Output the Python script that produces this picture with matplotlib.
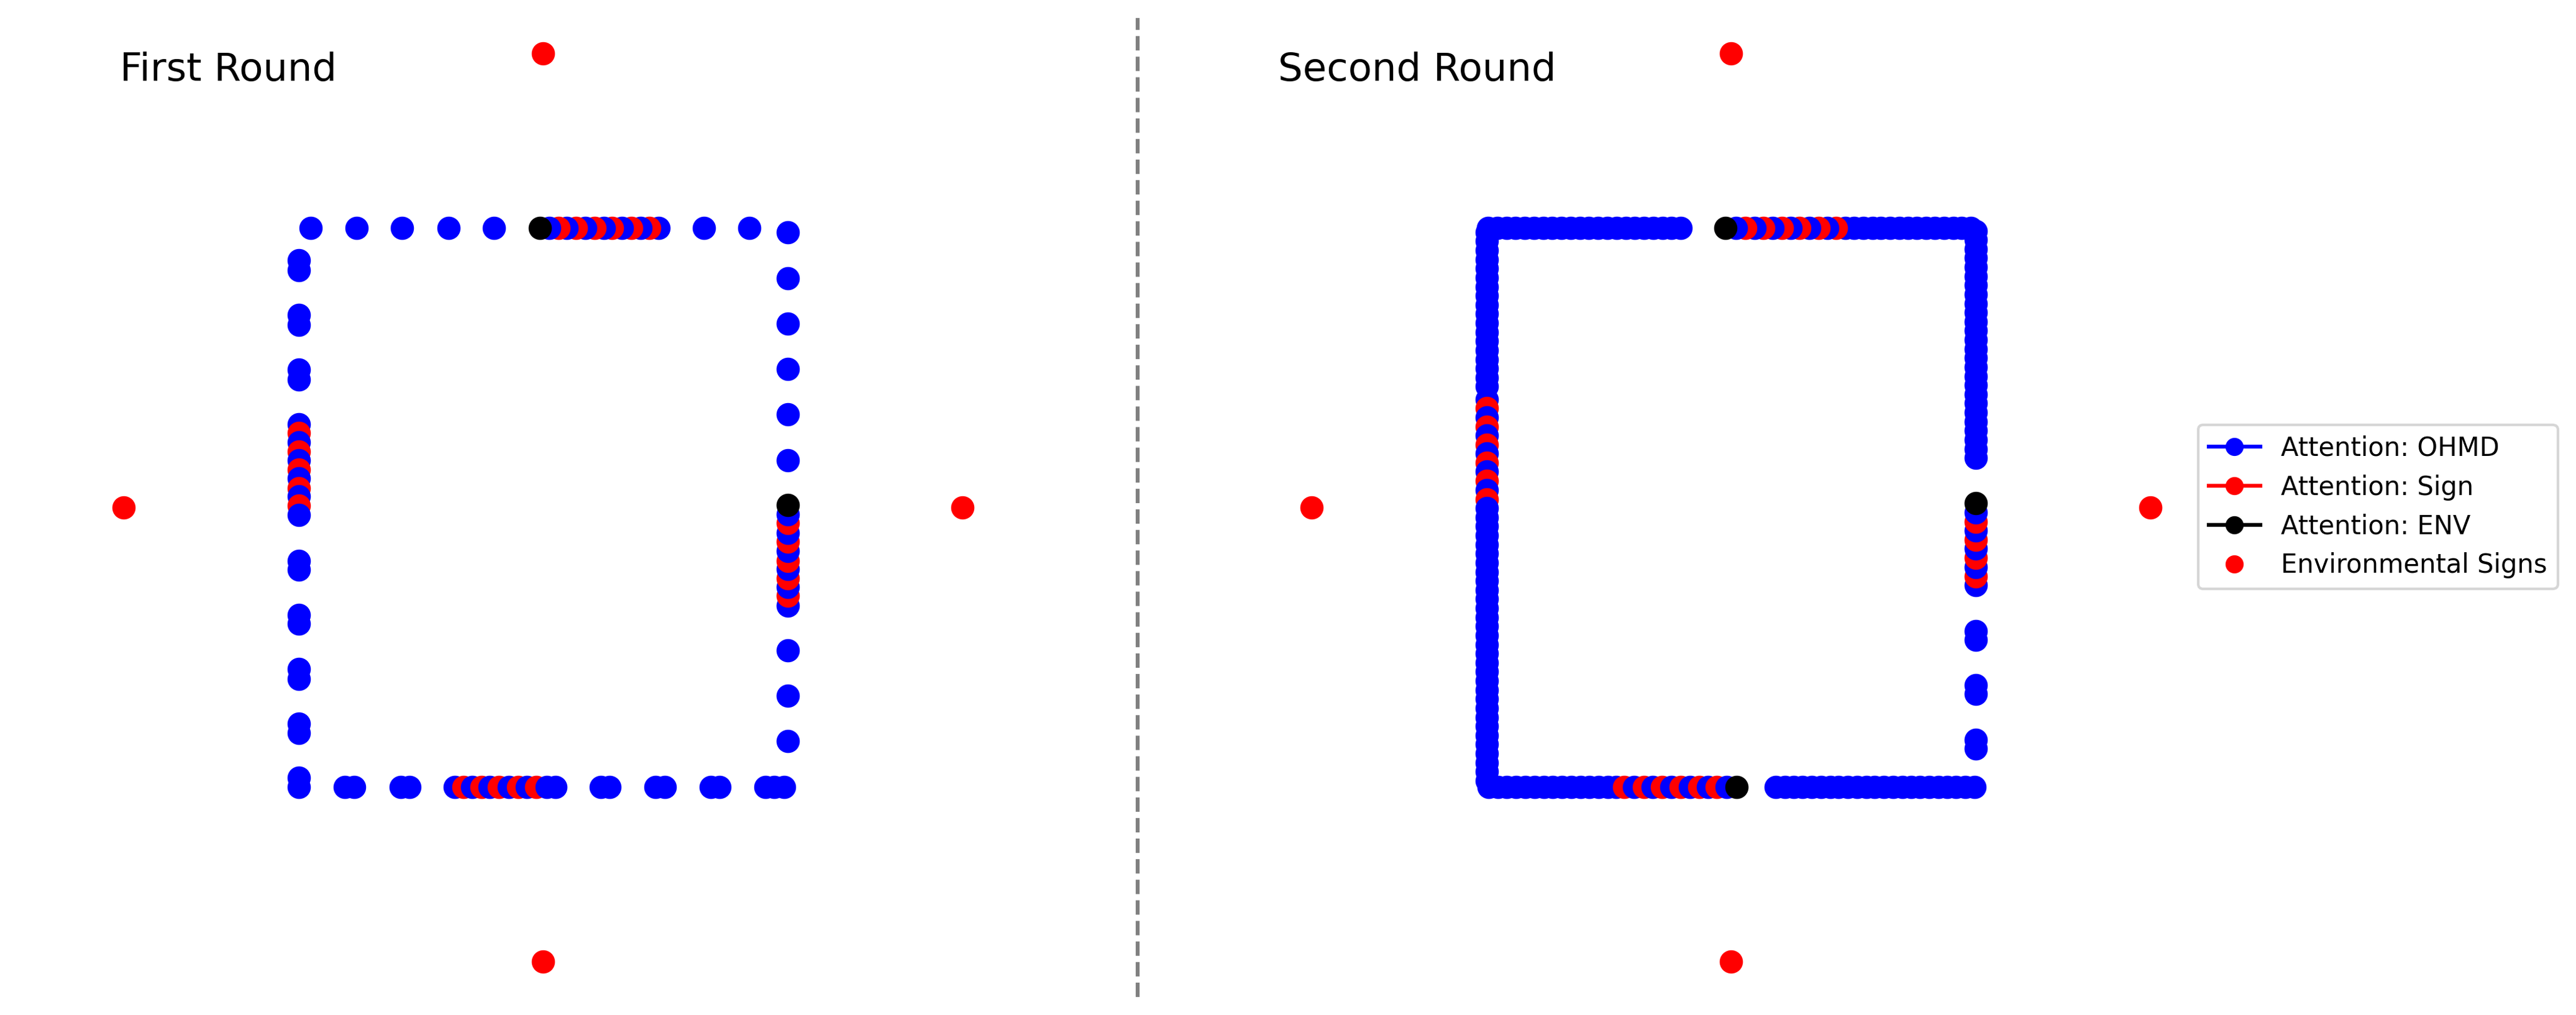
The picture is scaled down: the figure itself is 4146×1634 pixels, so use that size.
import matplotlib
matplotlib.use("Agg")
import matplotlib.pyplot as plt
from matplotlib.lines import Line2D

# side coordinates of the walked square
TOP, BOTTOM, LEFT, RIGHT = 4.0, -4.0, -3.99, 4.0

# environmental signs (same in both rounds)
env_x = [0.0, 0.0, -6.85, 6.85]
env_y = [6.5, -6.5, 0.0, 0.0]

# O = OHMD, S = Sign, E = ENV ; each side listed in walking order
# ---- first round
r1_top_x = [3.37, 2.63, 1.89, 1.74, 1.59, 1.44, 1.29, 1.13, 0.99, 0.84, 0.69,
            0.54, 0.39, 0.25, 0.10, -0.05, -0.80, -1.54, -2.30, -3.05, -3.80]
r1_top_att = "OOOSOSOSOSOSOSOEOOOOO"

r1_left_y = [3.54, 3.40, 2.76, 2.61, 1.97, 1.83, 1.19, 1.07, 0.93, 0.80, 0.68,
             0.54, 0.42, 0.28, 0.16, 0.03, -0.11, -0.76, -0.89, -1.54, -1.66,
             -2.31, -2.45, -3.09, -3.23, -3.87, -4.00]
r1_left_att = "OOOOOOOSOSOSOSOSOOOOOOOOOOO"

r1_bottom_x = [-3.24, -3.09, -2.32, -2.18, -1.44, -1.30, -1.16, -1.01, -0.87,
               -0.72, -0.56, -0.41, -0.26, -0.11, 0.06, 0.20, 0.94, 1.09, 1.84,
               1.99, 2.74, 2.88, 3.63, 3.78, 3.94]
r1_bottom_att = "OOOOOSOSOSOSOSOOOOOOOOOOO"

r1_right_y = [-3.34, -2.69, -2.04, -1.40, -1.26, -1.14, -1.01, -0.88, -0.76,
              -0.62, -0.49, -0.36, -0.22, -0.10, 0.04, 0.68, 1.33, 1.98, 2.63,
              3.28, 3.94]
r1_right_att = "OOOOSOSOSOSOSOEOOOOOO"

# ---- second round
r2_top_x = [3.92, 3.77, 3.63, 3.48, 3.33, 3.19, 3.04, 2.89, 2.75, 2.60, 2.45,
            2.31, 2.16, 2.01, 1.87, 1.72, 1.57, 1.43, 1.28, 1.12, 0.97, 0.83,
            0.68, 0.53, 0.39, 0.23, 0.08, -0.09, -0.82, -0.97, -1.12, -1.27,
            -1.42, -1.57, -1.72, -1.87, -2.02, -2.17, -2.32, -2.47, -2.62,
            -2.77, -2.92, -3.07, -3.22, -3.37, -3.52, -3.67, -3.82, -3.97]
r2_top_att = "OOOOOOOOOOOOOOOSOSOSOSOSOSOEOOOOOOOOOOOOOOOOOOOOOO"

r2_left_y = [3.94, 3.81, 3.68, 3.55, 3.42, 3.29, 3.16, 3.03, 2.90, 2.77, 2.64,
             2.51, 2.38, 2.25, 2.12, 1.99, 1.86, 1.73, 1.55, 1.42, 1.29, 1.16,
             1.03, 0.90, 0.77, 0.64, 0.52, 0.38, 0.25, 0.12, -0.01, -0.14,
             -0.27, -0.40, -0.53, -0.66, -0.79, -0.92, -1.05, -1.18, -1.31,
             -1.44, -1.57, -1.70, -1.83, -1.96, -2.09, -2.22, -2.35, -2.48,
             -2.61, -2.74, -2.87, -3.00, -3.13, -3.26, -3.39, -3.52, -3.65,
             -3.78, -3.91]
r2_left_att = ("OOOOOOOOOOOOOOOOOO" "OSOSOSOSOSOSO"
               "OOOOOOOOOOOOOOOOOOOOOOOOOOOOOO")

r2_bottom_x = [-3.96, -3.81, -3.66, -3.51, -3.36, -3.21, -3.06, -2.91, -2.76,
               -2.61, -2.46, -2.31, -2.16, -2.01, -1.88, -1.75, -1.58, -1.42,
               -1.28, -1.13, -0.97, -0.82, -0.67, -0.52, -0.38, -0.23, -0.07,
               0.09, 0.73, 0.88, 1.03, 1.17, 1.32, 1.47, 1.62, 1.76, 1.91, 2.06,
               2.21, 2.35, 2.50, 2.65, 2.80, 2.94, 3.09, 3.24, 3.39, 3.53, 3.68,
               3.83, 3.98]
r2_bottom_att = ("OOOOOOOOOOOOOOO" "SOSOSOSOSOSO" "E"
                 "OOOOOOOOOOOOOOOOOOOOOOO")

r2_right_y = [-3.45, -3.32, -2.67, -2.54, -1.89, -1.77, -1.11, -0.99, -0.85,
              -0.72, -0.59, -0.46, -0.33, -0.20, -0.07, 0.06, 0.71, 0.84, 0.97,
              1.10, 1.23, 1.36, 1.49, 1.62, 1.75, 1.88, 2.01, 2.14, 2.27, 2.40,
              2.53, 2.66, 2.79, 2.92, 3.05, 3.18, 3.31, 3.44, 3.57, 3.70, 3.83,
              3.96]
r2_right_att = ("OOOOOO" "OSOSOSOSO" "E" "OOOOOOOOOOOOOOOOOOOOOOOOOO")

colores = {"O": "blue", "S": "red", "E": "black"}


def walk(top_x, top_a, left_y, left_a, bottom_x, bottom_a, right_y, right_a):
    xs = list(top_x) + [LEFT] * len(left_y) + list(bottom_x) + [RIGHT] * len(right_y)
    ys = [TOP] * len(top_x) + list(left_y) + [BOTTOM] * len(bottom_x) + list(right_y)
    return xs, ys, top_a + left_a + bottom_a + right_a


rondas = [
    walk(r1_top_x, r1_top_att, r1_left_y, r1_left_att,
         r1_bottom_x, r1_bottom_att, r1_right_y, r1_right_att),
    walk(r2_top_x, r2_top_att, r2_left_y, r2_left_att,
         r2_bottom_x, r2_bottom_att, r2_right_y, r2_right_att),
]

W, H, DPI = 4146, 1634, 300
fig = plt.figure(figsize=(W / DPI, H / DPI), dpi=DPI)

# axes placed by pixel centre of each panel
centros = [874, 2786]
for cx, (xs, ys, att) in zip(centros, rondas):
    ax = fig.add_axes([(cx - 738.75) / W, 7 / H, 1477.5 / W, 1620 / H])
    for x, y, a in zip(xs, ys, att):
        ax.plot(x, y, "o", color=colores[a], markersize=8)
    ax.plot(env_x, env_y, "o", color="red", markersize=8, linestyle="")
    ax.set_xlim(-7.5, 7.5)
    ax.set_ylim(-7.2, 7.2)
    ax.axis("off")

fig.text(193 / W, 1 - 130 / H, "First Round", fontsize=15, va="baseline")
fig.text(2057 / W, 1 - 130 / H, "Second Round", fontsize=15, va="baseline")

fig.add_artist(Line2D([1831 / W, 1831 / W], [0.018, 0.982], color="gray",
                      linestyle="--", linewidth=1.5))

handles = [
    Line2D([0], [0], color="blue", marker="o", label="Attention: OHMD"),
    Line2D([0], [0], color="red", marker="o", label="Attention: Sign"),
    Line2D([0], [0], color="black", marker="o", label="Attention: ENV"),
    Line2D([0], [0], color="red", marker="o", linestyle="", label="Environmental Signs"),
]
fig.legend(handles=handles, loc="center left",
           bbox_to_anchor=(3538 / W, 1 - 816 / H), borderaxespad=0)

fig.savefig("out.png", dpi=DPI)
